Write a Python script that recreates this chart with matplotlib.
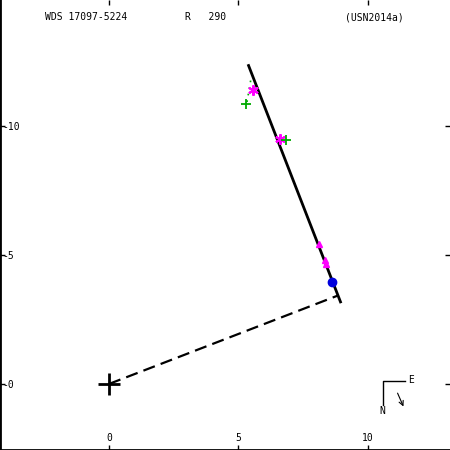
import matplotlib
matplotlib.use("Agg")
import matplotlib.pyplot as plt

plt.rcParams['axes.unicode_minus'] = False
plt.rcParams['font.family'] = 'DejaVu Sans Mono'

# linear fit and the perpendicular from the primary
fit_x = [5.37, 8.96]
fit_y = [-12.39, -3.13]
perp_x = [0.0, 8.85]
perp_y = [0.0, -3.43]

# measurements
star_x = [5.56, 6.62]
star_y = [-11.39, -9.50]
plus_x = [5.29, 6.83]
plus_y = [-10.85, -9.46]
tri_x = [8.11, 8.34, 8.38]
tri_y = [-5.41, -4.79, -4.63]
circ_x = [8.61]
circ_y = [-3.94]
resid_x = [5.33, 5.48]
resid_y = [-10.93, -11.81]

xticks = [0, 5, 10]
xlabels = ['0', '5', '10']
yticks = [-10, -5, 0]
ylabels = ['-10', '-5', '-0']

fig = plt.figure(figsize=(4.5, 4.5), dpi=100)
ax = fig.add_axes([0, 0, 1, 1])
ax.set_xlim(-4.21, 13.17)
ax.set_ylim(2.56, -14.88)

ax.plot(fit_x, fit_y, color='black', lw=2, solid_capstyle='butt')
ax.plot(perp_x, perp_y, color='black', lw=1.6, dashes=(5.5, 2.8))
ax.plot(resid_x, resid_y, color='#00aa00', lw=1.2, ls=(0, (1, 3)))
ax.plot(0, 0, marker='+', color='black', ms=16, mew=2)
ax.plot(star_x, star_y, ls='none', marker=(6, 2, 0), color='magenta', ms=7.5, mew=1.5)
ax.plot(plus_x, plus_y, ls='none', marker='+', color='#00aa00', ms=7, mew=1.3)
ax.plot(tri_x, tri_y, ls='none', marker='^', color='magenta', ms=5)
ax.plot(circ_x, circ_y, ls='none', marker='o', color='#0000dd', ms=6)

ax.set_xticks(xticks)
ax.set_xticklabels(xlabels)
ax.set_yticks(yticks)
ax.set_yticklabels(ylabels)
ax.tick_params(axis='both', direction='in', length=3.5, width=1, labelsize=7,
               top=True, right=True)
ax.tick_params(axis='x', pad=-5)
ax.tick_params(axis='y', pad=-1.5)
for t in ax.get_xticklabels():
    t.set_verticalalignment('bottom')
for t in ax.get_yticklabels():
    t.set_horizontalalignment('left')

for s in ['top', 'right']:
    ax.spines[s].set_visible(False)
ax.spines['left'].set_linewidth(2)
ax.spines['bottom'].set_linewidth(2)

# header
ax.text(45 / 450, 1 - 17 / 450, 'WDS 17097-5224', transform=ax.transAxes, fontsize=7, va='center')
ax.text(185 / 450, 1 - 17 / 450, 'R   290', transform=ax.transAxes, fontsize=7, va='center')
ax.text(345 / 450, 1 - 17 / 450, '(USN2014a)', transform=ax.transAxes, fontsize=7, va='center')

# compass
ax.plot([0.9, 0.851, 0.851], [0.153, 0.153, 0.1], color='black', lw=1, transform=ax.transAxes)
ax.text(0.908, 0.155, 'E', transform=ax.transAxes, fontsize=7, va='center')
ax.text(0.849, 0.087, 'N', transform=ax.transAxes, fontsize=7, ha='center', va='center')
ax.annotate('', xy=(0.899, 0.091), xytext=(0.881, 0.132), xycoords='axes fraction',
            arrowprops=dict(arrowstyle='->', lw=0.8, color='black', mutation_scale=8))

fig.savefig('out.png', dpi=100)
